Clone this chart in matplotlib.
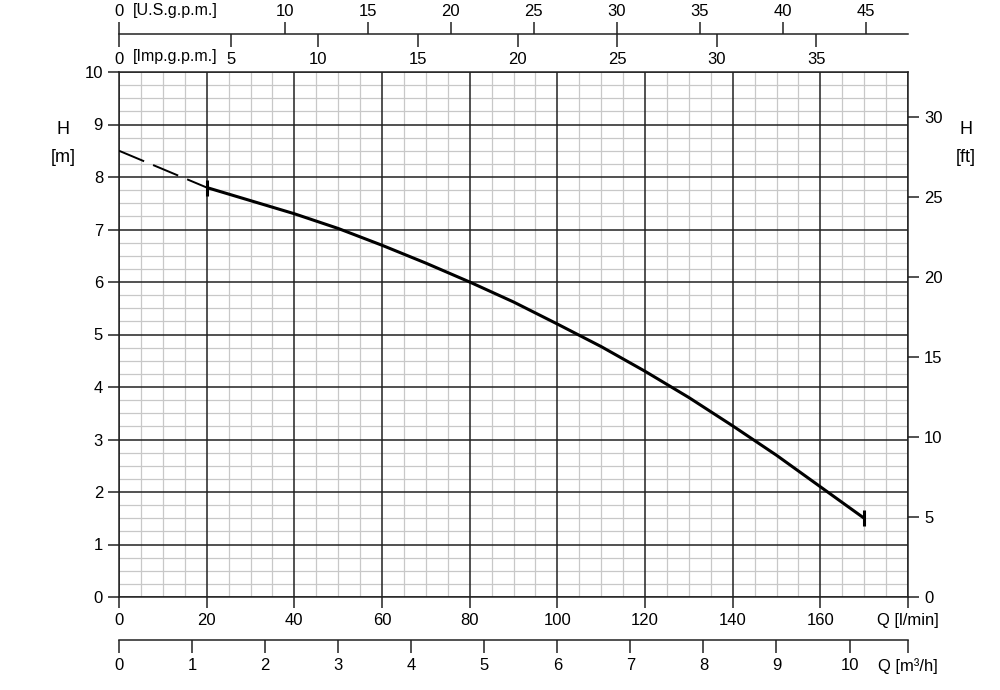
import numpy as np
import matplotlib
matplotlib.use("Agg")
import matplotlib.pyplot as plt
from matplotlib.ticker import MultipleLocator

# pump curve, flow in l/min, head in m
q_dash = [0, 10, 20]
h_dash = [8.5, 8.15, 7.8]
q_curve = [20, 30, 40, 50, 60, 70, 80, 90, 100, 110, 120, 130, 140, 150, 160, 170]
h_curve = [7.8, 7.55, 7.3, 7.02, 6.7, 6.36, 6.0, 5.62, 5.2, 4.77, 4.3, 3.8, 3.26, 2.7, 2.1, 1.5]

q_ticks = [0, 20, 40, 60, 80, 100, 120, 140, 160, 180]
q_labels = ["0", "20", "40", "60", "80", "100", "120", "140", "160", "Q [l/min]"]
h_ticks = [0, 1, 2, 3, 4, 5, 6, 7, 8, 9, 10]
m3h_ticks = [0, 1, 2, 3, 4, 5, 6, 7, 8, 9, 10, 10.8]
m3h_labels = ["0", "1", "2", "3", "4", "5", "6", "7", "8", "9", "10", "Q [m³/h]"]
us_ticks = [0, 10, 15, 20, 25, 30, 35, 40, 45]
imp_ticks = [0, 5.6, 10, 15, 20, 25, 30, 35]   # the "5" sits a bit right in the original
imp_labels = ["0", "5", "10", "15", "20", "25", "30", "35"]
ft_ticks = [0, 5, 10, 15, 20, 25, 30]

US_GAL, IMP_GAL, M3H, FT = 3.78541, 4.54609, 1000 / 60, 3.28084
QMAX, HMAX = 180, 10
FS = 12
DARK = "#222222"
plt.rcParams["font.family"] = ["Liberation Sans", "DejaVu Sans"]

fig = plt.figure(figsize=(10, 6.9), dpi=100)
L, W = 0.119, 0.789
ax = fig.add_axes([L, 1 - 597 / 690, W, (597 - 72) / 690])
ax.set_xlim(0, QMAX); ax.set_ylim(0, HMAX)
ax.xaxis.set_minor_locator(MultipleLocator(5))
ax.yaxis.set_minor_locator(MultipleLocator(0.25))
ax.grid(which="minor", color="#c8c8c8", lw=0.9)
ax.set_axisbelow(True)
for q in q_ticks:
    ax.axvline(q, color=DARK, lw=1.1, zorder=1)
for h in h_ticks:
    ax.axhline(h, color=DARK, lw=1.1, zorder=1)
ax.set_xticks(q_ticks); ax.set_xticklabels(q_labels)
ax.set_yticks(h_ticks)
ax.tick_params(which="minor", length=0)
ax.tick_params(which="major", direction="out", length=8, width=1.1, labelsize=FS, color=DARK)
for s in ax.spines.values():
    s.set_color(DARK); s.set_linewidth(1.1)

ax.plot(q_dash, h_dash, color="black", lw=1.4, dashes=(14, 5), zorder=3)
ax.plot(q_curve, h_curve, color="black", lw=2.2, solid_capstyle="butt", zorder=3)
ax.plot([q_curve[0], q_curve[-1]], [h_curve[0], h_curve[-1]], ls="none", marker="|",
        ms=12, mew=2.2, color="black", zorder=3)

# right axis in feet
axr = ax.twinx()
axr.set_ylim(0, HMAX * FT)
axr.set_yticks(ft_ticks)
axr.tick_params(direction="out", length=8, width=1.1, labelsize=FS, color=DARK)
for s in axr.spines.values():
    s.set_visible(False)

fig.text(0.063, 1 - 130 / 690, "H", ha="center", va="center", fontsize=FS + 1)
fig.text(0.063, 1 - 158 / 690, "[m]", ha="center", va="center", fontsize=FS + 1)
fig.text(0.966, 1 - 130 / 690, "H", ha="center", va="center", fontsize=FS + 1)
fig.text(0.966, 1 - 158 / 690, "[ft]", ha="center", va="center", fontsize=FS + 1)

# top scales (U.S. up, Imp down) on one line
def bare(rect):
    a = fig.add_axes(rect)
    a.set_xlim(0, QMAX); a.set_ylim(0, 1)
    a.set_yticks([]); a.patch.set_visible(False)
    for s in a.spines.values():
        s.set_visible(False)
    return a

top_y = 1 - 34 / 690
ax_us = bare([L, top_y, W, 0.0001])
ax_us.spines["top"].set_visible(True); ax_us.spines["top"].set_linewidth(1.1)
ax_us.spines["top"].set_color(DARK)
ax_us.xaxis.tick_top()
ax_us.set_xticks(np.array(us_ticks) * US_GAL)
ax_us.set_xticklabels([str(t) for t in us_ticks])
ax_us.tick_params(direction="out", length=9, width=1.1, labelsize=FS, pad=1.5, color=DARK)

ax_imp = bare([L, top_y, W, 0.0001])
ax_imp.set_xticks(np.array(imp_ticks) * IMP_GAL)
ax_imp.set_xticklabels(imp_labels)
ax_imp.tick_params(direction="out", length=9, width=1.1, labelsize=FS, pad=4, color=DARK)
fig.text(0.133, 1 - 57 / 690, "[Imp.g.p.m.]", ha="left", va="center", fontsize=FS - 0.5)
fig.text(0.133, 1 - 10 / 690, "[U.S.g.p.m.]", ha="left", va="center", fontsize=FS - 0.5)

# bottom m3/h scale
ax_m3 = bare([L, 1 - 640 / 690, W, 0.0001])
ax_m3.spines["bottom"].set_visible(True); ax_m3.spines["bottom"].set_linewidth(1.1)
ax_m3.spines["bottom"].set_color(DARK)
ax_m3.set_xticks(np.array(m3h_ticks) * M3H)
ax_m3.set_xticklabels(m3h_labels)
ax_m3.tick_params(direction="out", length=9, width=1.1, labelsize=FS, pad=4, color=DARK)

fig.savefig("out.png", dpi=100)
